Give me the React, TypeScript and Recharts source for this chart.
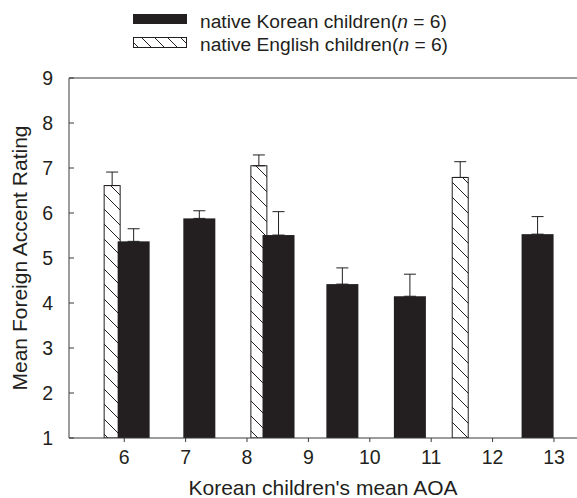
import { BarChart, Bar, XAxis, YAxis, ErrorBar, ReferenceLine, Legend } from "recharts";

// Korean children: mean AOA position, mean rating, SE
const koreanAoa = [6.15, 7.22, 8.51, 9.55, 10.65, 12.73];
const koreanMean = [5.37, 5.88, 5.51, 4.42, 4.15, 5.53];
const koreanSE = [0.28, 0.17, 0.52, 0.36, 0.49, 0.39];

// native English children (control groups)
const englishAoa = [5.8, 8.19, 11.47];
const englishMean = [6.61, 7.05, 6.79];
const englishSE = [0.3, 0.24, 0.35];

const xTicks = [6, 7, 8, 9, 10, 11, 12, 13];
const yTicks = [1, 2, 3, 4, 5, 6, 7, 8, 9];

const ink = "#231f20";
const axisColor = "#3a3a3a";

// english first so the korean bars are drawn over them
const rows = [
  ...englishAoa.map((aoa, i) => ({ aoa, rating: englishMean[i], se: englishSE[i], group: "english" })),
  ...koreanAoa.map((aoa, i) => ({ aoa, rating: koreanMean[i], se: koreanSE[i], group: "korean" })),
];

function RatingBar(props: any) {
  const { x, y, width, height, payload } = props;
  if (!height || height <= 0) return null;
  const cx = x + width / 2;
  if (payload.group === "english") {
    const w = 16;
    return (
      <rect x={cx - w / 2} y={y} width={w} height={height} fill="url(#hatch)" stroke={ink} strokeWidth={1} />
    );
  }
  const w = 32;
  return <rect x={cx - w / 2} y={y} width={w} height={height} fill={ink} />;
}

function LegendBox() {
  return (
    <svg width={577} height={60} style={{ display: "block" }}>
      <rect x={133} y={14} width={54} height={10} fill={ink} />
      <text x={200} y={28} fontSize={19.2} fill={ink}>
        native Korean children(<tspan fontStyle="italic">n</tspan> = 6)
      </text>
      <rect x={133.5} y={37.5} width={53} height={10} fill="url(#hatchSmall)" stroke={ink} strokeWidth={1} />
      <text x={200} y={51} fontSize={19.2} fill={ink}>
        native English children(<tspan fontStyle="italic">n</tspan> = 6)
      </text>
    </svg>
  );
}

export default function App() {
  return (
    <div
      style={{
        position: "absolute",
        left: 0,
        top: 0,
        width: 577,
        height: 498,
        background: "#fff",
        fontFamily: "'Liberation Sans', Arial, sans-serif",
      }}
    >
      <svg width={0} height={0} style={{ position: "absolute" }}>
        <defs>
          <pattern id="hatch" patternUnits="userSpaceOnUse" width={15} height={15}>
            <rect width={15} height={15} fill="#fff" />
            <path d="M0,0 L15,15 M-3,12 L3,18 M12,-3 L18,3" stroke={ink} strokeWidth={1} />
          </pattern>
          <pattern id="hatchSmall" patternUnits="userSpaceOnUse" width={13} height={13}>
            <rect width={13} height={13} fill="#fff" />
            <path d="M0,0 L13,13 M-3,10 L3,16 M10,-3 L16,3" stroke={ink} strokeWidth={1} />
          </pattern>
        </defs>
      </svg>
      <BarChart
        width={577}
        height={498}
        data={rows}
        margin={{ top: 78, right: 0, bottom: 0, left: 0 }}
        barSize={10}
      >
        <XAxis
          dataKey="aoa"
          type="number"
          domain={[5.1, 13.375]}
          allowDataOverflow
          ticks={xTicks}
          height={60}
          stroke={axisColor}
          tickSize={4}
          tickMargin={8}
          tick={{ fill: ink, fontSize: 19.5 }}
          label={{ value: "Korean children's mean AOA", position: "insideBottom", offset: 3, fill: ink, fontSize: 21 }}
        />
        <YAxis
          type="number"
          domain={[1, 9]}
          allowDataOverflow
          ticks={yTicks}
          width={69}
          stroke={axisColor}
          tickSize={-5}
          tickMargin={21}
          tick={{ fill: ink, fontSize: 19.5 }}
          label={{
            value: "Mean Foreign Accent Rating",
            angle: -90,
            position: "insideLeft",
            offset: 20,
            fill: ink,
            fontSize: 21,
            style: { textAnchor: "middle" },
          }}
        />
        <ReferenceLine y={9} stroke={axisColor} />
        <Legend
          layout="vertical"
          align="center"
          verticalAlign="middle"
          wrapperStyle={{ top: 0, left: 0, width: 577, height: 60 }}
          content={() => <LegendBox />}
        />
        <Bar dataKey="rating" shape={<RatingBar />} isAnimationActive={false}>
          <ErrorBar dataKey={(d: any) => [0, d.se]} direction="y" width={6} stroke={ink} strokeWidth={1} />
        </Bar>
      </BarChart>
    </div>
  );
}
